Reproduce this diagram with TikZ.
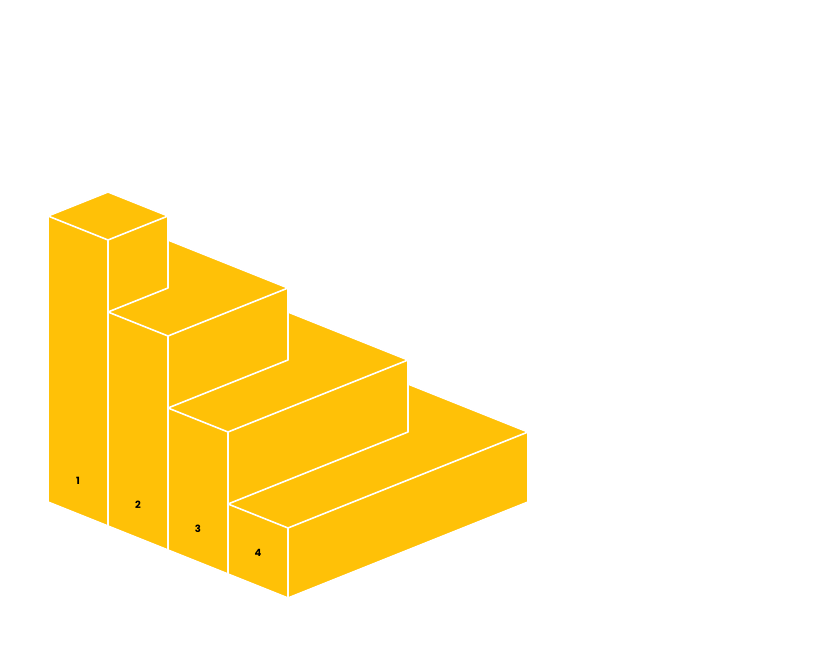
\documentclass[tikz,border=0pt]{standalone}
\usepackage{fontspec}
\setmainfont{Poppins}
\definecolor{stair}{HTML}{FFC107}
\begin{document}
\begin{tikzpicture}[x=1pt,y=-1pt,
  edge/.style={draw=white,line width=1.6pt,line join=round,line cap=round},
  lbl/.style={font=\bfseries\fontsize{10}{12}\selectfont,text=black}]
\useasboundingbox (0,0) rectangle (840,660);
\fill[stair] (48,216)--(108,192)--(168,216)--(168,240)--(288,288)--(288,312)--(408,360)--(408,384)--(528,432)--(528,502)--(288,598)--(228,574)--(168,550)--(108,526)--(48,502)--cycle;
\draw[edge] (48,216)--(108,192)--(168,216)--(168,240)--(288,288)--(288,312)--(408,360)--(408,384)--(528,432)--(528,502)--(288,598)--(228,574)--(168,550)--(108,526)--(48,502)--cycle;
\draw[edge] (48,216)--(108,240)--(168,216);
\draw[edge] (108,240)--(108,526);
\draw[edge] (168,216)--(168,288)--(108,312)--(168,336)--(168,550);
\draw[edge] (168,336)--(288,288)--(288,360)--(168,408)--(228,432)--(228,574);
\draw[edge] (228,432)--(408,360)--(408,432)--(228,504)--(288,528)--(288,598);
\draw[edge] (288,528)--(528,432);
\node[lbl] (l1) at (78,481) {1};
\node[lbl] (l2) at (138,505) {2};
\node[lbl] (l3) at (198,529) {3};
\node[lbl] (l4) at (258,553) {4};
\end{tikzpicture}
\end{document}
